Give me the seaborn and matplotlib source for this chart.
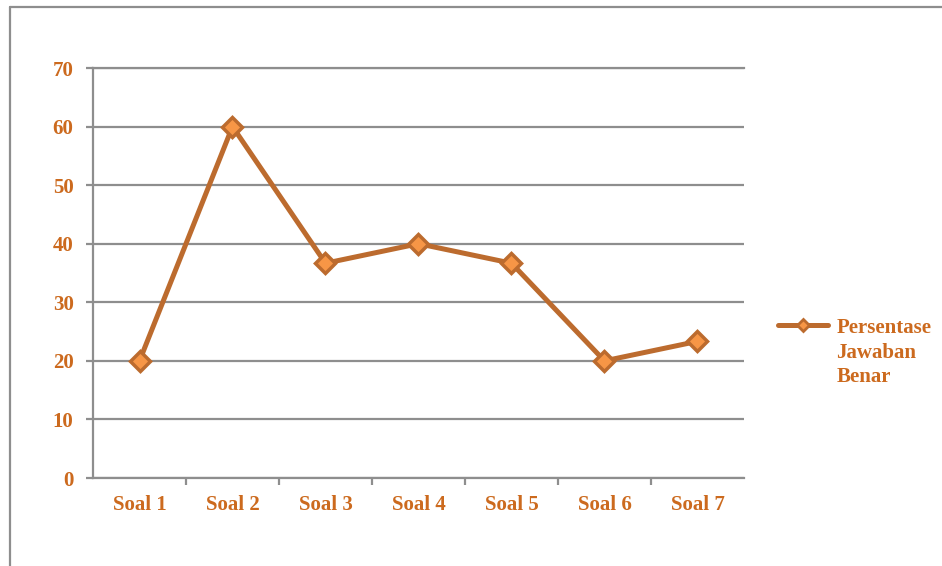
import numpy as np
import pandas as pd
import matplotlib.pyplot as plt
import seaborn as sns
from matplotlib.lines import Line2D

# Data
soal = ['Soal 1', 'Soal 2', 'Soal 3', 'Soal 4', 'Soal 5', 'Soal 6', 'Soal 7']
persentase = [20, 60, 36.67, 40, 36.67, 20, 23.33]
series_name = 'Persentase\nJawaban\nBenar'
y_ticks = [0, 10, 20, 30, 40, 50, 60, 70]

df = pd.DataFrame({'Soal': soal, 'Persentase': persentase, 'Seri': series_name})

sns.set_theme(style="white")
plt.rcParams['font.family'] = ['Liberation Serif', 'DejaVu Serif']

text_col = '#CC6A1E'
line_col = '#BC6B2E'
grid_col = '#8E8E8E'

fig = plt.figure(figsize=(9.42, 5.66), dpi=100)
ax = fig.add_axes([93 / 942, 1 - 478 / 566, (744 - 93) / 942, (478 - 68) / 566])

sns.lineplot(data=df, x='Soal', y='Persentase', hue='Seri', palette=[line_col],
             sort=False, linewidth=3.6, marker='D', markersize=10,
             markerfacecolor='#F79646', markeredgecolor=line_col, markeredgewidth=2.5,
             ax=ax, zorder=5)

ax.set_xlim(-0.5, 6.5)
ax.set_ylim(0, 70)
ax.set_yticks(y_ticks)
ax.set_xlabel('')
ax.set_ylabel('')

# grid
ax.yaxis.grid(True, color=grid_col, linewidth=1.6)
ax.xaxis.grid(False)
ax.spines['right'].set_visible(False)
for s in ['left', 'bottom', 'top']:
    ax.spines[s].set_color(grid_col)
    ax.spines[s].set_linewidth(1.6)

ax.set_xticks(np.arange(0.5, 6, 1), minor=True)
ax.tick_params(axis='x', which='major', length=0, pad=12, labelsize=15, labelcolor=text_col)
ax.tick_params(axis='x', which='minor', length=5, width=1.6, color=grid_col, direction='out', bottom=True)
ax.tick_params(axis='y', which='major', length=5, width=1.6, color=grid_col, direction='out', left=True,
               pad=9, labelsize=15, labelcolor=text_col)
for lab in ax.get_xticklabels() + ax.get_yticklabels():
    lab.set_fontweight('bold')

leg = ax.legend(loc='upper left', bbox_to_anchor=(778 / 942, 1 - 318 / 566),
                bbox_transform=fig.transFigure, frameon=False, fontsize=15,
                handlelength=2.4, handletextpad=0.4, borderaxespad=0, borderpad=0)
for t in leg.get_texts():
    t.set_color(text_col)
    t.set_fontweight('bold')
    t.set_linespacing(1.3)
for h in leg.legend_handles:
    h.set_markersize(6)
    h.set_markeredgewidth(2)
# put the legend line next to the first text line
for col in leg._legend_handle_box.get_children():
    for row in col.get_children():
        row.align = 'top'

# outer chart frame (left and top edges)
fig.add_artist(Line2D([10 / 942, 10 / 942], [0, 1 - 7 / 566], color=grid_col, linewidth=1.6))
fig.add_artist(Line2D([10 / 942, 1], [1 - 7 / 566, 1 - 7 / 566], color=grid_col, linewidth=1.6))

fig.savefig('out.png', dpi=100)
